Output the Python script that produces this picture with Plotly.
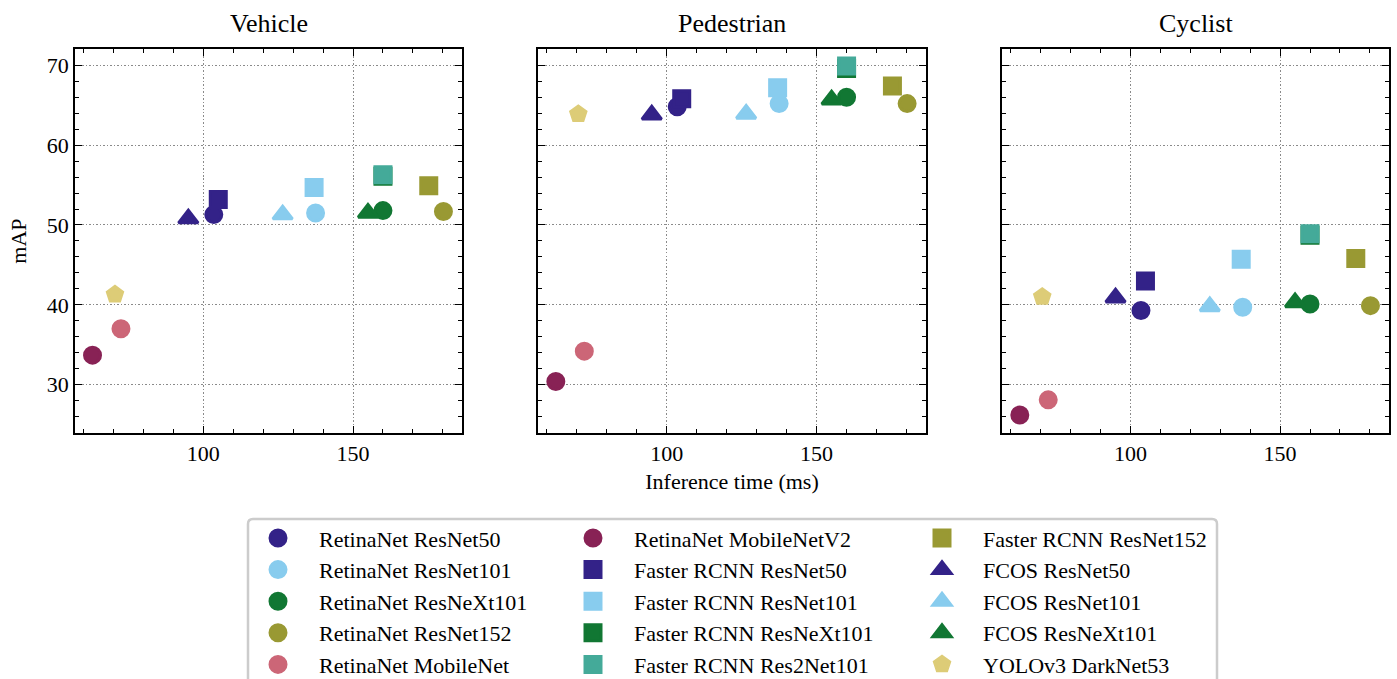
import plotly.graph_objects as go

# ---------------- data ----------------
models = [
    "RetinaNet ResNet50", "RetinaNet ResNet101", "RetinaNet ResNeXt101",
    "RetinaNet ResNet152", "RetinaNet MobileNet", "RetinaNet MobileNetV2",
    "Faster RCNN ResNet50", "Faster RCNN ResNet101", "Faster RCNN ResNeXt101",
    "Faster RCNN Res2Net101", "Faster RCNN ResNet152",
    "FCOS ResNet50", "FCOS ResNet101", "FCOS ResNeXt101",
    "YOLOv3 DarkNet53",
]
inference_ms = [103.5, 137.5, 160.0, 180.2, 72.5, 63.0,
                105.0, 137.0, 160.0, 160.0, 175.3,
                95.0, 126.5, 155.0,
                70.5]
map_vehicle = [51.3, 51.5, 51.8, 51.7, 37.0, 33.7,
               53.2, 54.7, 56.1, 56.3, 54.9,
               50.8, 51.3, 51.5,
               41.3]
map_pedestrian = [64.8, 65.2, 66.0, 65.2, 34.2, 30.4,
                  65.8, 67.2, 69.6, 69.9, 67.4,
                  63.8, 63.9, 65.7,
                  63.9]
map_cyclist = [39.3, 39.7, 40.1, 39.9, 28.1, 26.2,
               43.0, 45.7, 48.7, 48.9, 45.8,
               40.9, 39.8, 40.3,
               41.0]
panel_titles = ["Vehicle", "Pedestrian", "Cyclist"]

# ---------------- styles ----------------
colors = ["#332288", "#88CCEE", "#117733", "#999933", "#CC6677", "#882255",
          "#332288", "#88CCEE", "#117733", "#44AA99", "#999933",
          "#332288", "#88CCEE", "#117733",
          "#DDCC77"]
symbols = ["circle"] * 6 + ["square"] * 5 + ["triangle-up"] * 3 + ["pentagon"]
sizes = [16] * 6 + [16] * 5 + [17] * 3 + [16]
legend_ids = ["legend"] * 5 + ["legend2"] * 5 + ["legend3"] * 5

FONT = "Liberation Serif, Times New Roman, serif"
W, H = 1397, 679
ML, MR, MT, MB = 75, 8, 49, 246
PW = W - ML - MR
PH = H - MT - MB

def px_x(p):
    return (p - ML) / PW

def px_y(p):
    return (H - MB - p) / PH

domains = [[0.0, px_x(462)], [px_x(538.3), px_x(925.7)], [px_x(1002.3), 1.0]]
panels = [map_vehicle, map_pedestrian, map_cyclist]

fig = go.Figure()
for k, vals in enumerate(panels):
    xa = "x" if k == 0 else f"x{k+1}"
    ya = "y" if k == 0 else f"y{k+1}"
    for i, name in enumerate(models):
        fig.add_trace(go.Scatter(
            x=[inference_ms[i]], y=[vals[i]], mode="markers", name=name,
            xaxis=xa, yaxis=ya,
            marker=dict(color=colors[i], symbol=symbols[i], size=sizes[i],
                        line=dict(color=colors[i], width=3)),
            showlegend=(k == 0), legend=legend_ids[i],
        ))

axis_common = dict(
    showline=True, linecolor="black", linewidth=1.5, mirror="allticks",
    ticks="inside", ticklen=7, tickwidth=1.2, tickcolor="black",
    showgrid=True, gridcolor="#8a8a8a", gridwidth=1, griddash="1.5px,2px",
    zeroline=False,
    tickfont=dict(family=FONT, size=22, color="black"),
)
x_range = [57.15, 186.4]
y_range = [23.95, 72.04]
layout = dict(
    width=W, height=H,
    margin=dict(l=ML, r=MR, t=MT, b=MB, autoexpand=False),
    paper_bgcolor="white", plot_bgcolor="white",
    font=dict(family=FONT, size=22, color="black"),
)
for k in range(3):
    xk = "xaxis" if k == 0 else f"xaxis{k+1}"
    yk = "yaxis" if k == 0 else f"yaxis{k+1}"
    layout[xk] = dict(axis_common, domain=domains[k], range=x_range,
                      tick0=0, dtick=50, anchor="y" if k == 0 else f"y{k+1}",
                      minor=dict(dtick=10, ticklen=4, tickwidth=1.2,
                                 tickcolor="black", ticks="inside", showgrid=False))
    layout[yk] = dict(axis_common, domain=[0, 1], range=y_range,
                      tick0=0, dtick=10, anchor="x" if k == 0 else f"x{k+1}",
                      showticklabels=(k == 0),
                      minor=dict(dtick=2, ticklen=4, tickwidth=1.2,
                                 tickcolor="black", ticks="inside", showgrid=False))
layout["yaxis"]["title"] = dict(text="mAP", font=dict(family=FONT, size=22), standoff=14)
layout["xaxis2"]["title"] = dict(text="Inference time (ms)", font=dict(family=FONT, size=22), standoff=8)

leg_common = dict(orientation="v", xanchor="left", yanchor="top",
                  y=px_y(517.2), bgcolor="rgba(0,0,0,0)", borderwidth=0,
                  itemwidth=72, font=dict(family=FONT, size=22, color="black"),
                  itemclick=False, itemdoubleclick=False)
layout["legend"] = dict(leg_common, x=px_x(278 - 41))
layout["legend2"] = dict(leg_common, x=px_x(593 - 41))
layout["legend3"] = dict(leg_common, x=px_x(942 - 41))

fig.update_layout(**layout)

# subplot titles
for k, t in enumerate(panel_titles):
    fig.add_annotation(text=t, xref="paper", yref="paper",
                       x=(domains[k][0] + domains[k][1]) / 2, y=px_y(24),
                       xanchor="center", yanchor="middle", showarrow=False,
                       font=dict(family=FONT, size=26, color="black"))

# legend frame (rounded)
x0, x1 = px_x(248), px_x(1217)
y0, y1 = px_y(519), px_y(720)
rx, ry = 5 / PW, 5 / PH
path = (f"M{x0+rx},{y0} L{x1-rx},{y0} Q{x1},{y0} {x1},{y0-ry} "
        f"L{x1},{y1} L{x0},{y1} L{x0},{y0-ry} Q{x0},{y0} {x0+rx},{y0} Z")
fig.add_shape(type="path", path=path, xref="paper", yref="paper",
              line=dict(color="#cccccc", width=2.5), fillcolor="rgba(0,0,0,0)",
              layer="below")

fig.write_html("out.html",
               config={"displayModeBar": False},
               post_script="document.body.style.margin='0';document.body.style.overflow='hidden';")
